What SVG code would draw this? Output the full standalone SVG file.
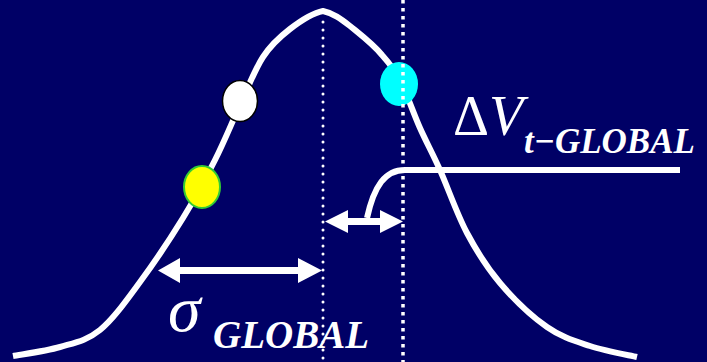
<svg xmlns="http://www.w3.org/2000/svg" width="707" height="362" viewBox="0 0 707 362" font-family="Liberation Serif, Times New Roman, serif">
<style>
.curve{fill:none;stroke:#fff;stroke-width:6;stroke-linejoin:round}
.conn{fill:none;stroke:#fff;stroke-width:6}
.arrow{fill:#fff;stroke:none}
.dotR{stroke:#fff;stroke-width:3;stroke-linecap:round;stroke-dasharray:0 8}
.dotS{stroke:#fff;stroke-width:3.5;stroke-dasharray:3.5 4.5}
</style>
<rect width="707" height="362" fill="#000066"/>
<g id="dv" fill="#fff" font-family="Liberation Serif, Times New Roman, serif">
<text x="453" y="135" font-size="56">&#916;<tspan font-style="italic">V</tspan></text>
<text x="524" y="153" font-size="35" font-style="italic" font-weight="bold">t&#8722;GLOBAL</text>
</g>
<g id="sigma" fill="#fff" font-family="Liberation Serif, Times New Roman, serif">
<text x="168" y="331" font-size="66" font-style="italic">&#963;</text>
<text x="213" y="348" font-size="39" font-style="italic" font-weight="bold">GLOBAL</text>
</g>
<g id="curve">
<path class="curve" d="M13,356 C20.8,354.5 45.5,351.3 60,347 C74.5,342.7 86.7,340.8 100,330 C113.3,319.2 126.2,300.7 140,282 C153.8,263.3 170.5,238.3 183,218 C195.5,197.7 205.5,178.8 215,160 C224.5,141.2 232,122.2 240,105 C248,87.8 254.7,69.7 263,57 C271.3,44.3 280,36.7 290,29 C300,21.3 313,13 323,11 C333,13 341,19 350,26 C361,35 373,44 382,55 C390,64 395,70 400,80 C406.7,93 413.3,113 420,128 C426.7,143 432.2,152.5 440,170 C447.8,187.5 457,214.2 467,233 C477,251.8 486.7,267.3 500,283 C513.3,298.7 532,316.5 547,327 C562,337.5 575,341 590,346 C605,351 629.2,355.2 637,357"/>
</g>
<g id="point-white"><ellipse cx="240" cy="101" rx="17.5" ry="20.5" fill="#fff" stroke="#000" stroke-width="1.5"/></g>
<g id="point-yellow"><ellipse cx="202" cy="187" rx="18" ry="21" fill="#ffff00" stroke="#33cc33" stroke-width="2"/></g>
<g id="point-cyan"><ellipse cx="399" cy="84" rx="19" ry="22" fill="#00ffff"/></g>
<g id="connectors">
<path class="conn" d="M367,218 C374,186 385,170 405,170 L680,170"/>
<polygon class="arrow" points="158,270.5 180,258 180,267 298,267 298,258 322,270.5 298,283 298,274 180,274 180,283"/>
<polygon class="arrow" points="325,221.5 348,210 348,218 380,218 380,210 403,221.5 380,233 380,225 348,225 348,233"/>
</g>
<g id="guides">
<line class="dotR" x1="323" y1="22" x2="323" y2="362"/>
<line class="dotS" x1="403" y1="0" x2="403" y2="362"/>
</g>
</svg>
